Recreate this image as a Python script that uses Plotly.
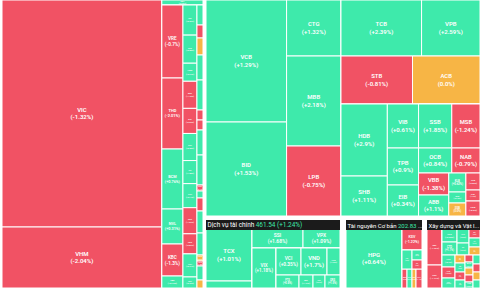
import plotly.graph_objects as go

W, H = 480, 288
RED, GREEN, AMBER = "#F15264", "#3EEAAB", "#F7B545"
FONT = "Roboto, Arial, sans-serif"

# ---------------- Bất động sản (real estate) ----------------
re_groups = ["RE", "L", "R", "TOP", "LOW", "A", "B", "C"]
re_group_parents = ["", "RE", "RE", "R", "R", "LOW", "LOW", "LOW"]
re_tickers = ["VIC", "VHM", "KDH",
              "VRE", "THD", "BCM", "NVL", "KBC", "SZC",
              "IDC", "NLG", "HDG", "DXG", "DIG", "KSF", "SIP", "VPI", "CEO", "PDR", "TCH", "NTL",
              "DXS", "HQC", "SCR", "ITC", "NBB", "LDG", "QCG", "HAR", "TDC", "CRE", "DRH", "FIR",
              "SGR", "TIG", "AGG", "HPX", "NTC", "D2D"]
re_parents = ["L", "L", "TOP"] + ["A"] * 6 + ["B"] * 12 + ["C"] * 18
re_caps = [36093, 9699, 205,
           1533, 1491, 1260, 735, 672, 252,
           420, 392, 252, 378, 350, 378, 322, 336, 364, 280, 322, 154,
           120, 78, 102, 150, 180, 60, 60, 150, 180, 36, 42, 78, 132, 132, 36, 30, 84, 48]
re_changes = [-1.32, -2.04, 0.55,
              -0.70, -2.01, 0.76, 0.31, -1.30, 0.42,
              0.62, 0.85, 0.30, -1.18, -0.95, 0.55, 1.05, 0.40, -1.52, -0.82, 0.71, 0.33,
              0.50, -0.80, 0.0, 1.20, 0.40, -1.10, -0.60, 0.90, 0.30, -2.10, 0.70, -0.90,
              0.60, 1.40, 0.0, -1.50, 0.20, 0.0]

# ---------------- Ngân hàng (banks) ----------------
bk_groups = ["BK", "BK1", "BK2", "BK3", "BK3a", "BK3b", "BK3c", "C1", "C2", "C3",
             "C3a", "C3b", "SO", "MN", "VA", "S1", "S2"]
bk_group_parents = ["", "BK", "BK", "BK", "BK3", "BK3", "BK3", "BK3c", "BK3c", "BK3c",
                    "C3", "C3", "C3a", "C3a", "C3b", "C3b", "C3b"]
bk_tickers = ["VCB", "BID", "CTG", "MBB", "LPB", "TCB", "VPB", "STB", "ACB",
              "HDB", "SHB", "VIB", "TPB", "EIB", "SSB", "OCB", "MSB", "NAB", "VBB", "ABB",
              "KLB", "BAB", "SGB", "VAB", "NVB", "PGB"]
bk_parents = ["BK1", "BK1", "BK2", "BK2", "BK2", "BK3a", "BK3a", "BK3b", "BK3b",
              "C1", "C1", "C2", "C2", "C2", "SO", "SO", "MN", "MN", "VA", "VA",
              "S1", "S1", "S1", "S2", "S2", "S2"]
bk_caps = [9760, 7520, 3024, 4860, 3780, 4480, 3248, 3408, 3216,
           3312, 1840, 1364, 1147, 961, 1452, 825, 1232, 700, 660, 630,
           323, 187, 221, 238, 154, 210]
bk_changes = [1.29, 1.53, 1.32, 2.18, -0.75, 2.39, 2.59, -0.81, 0.0,
              2.90, 1.11, 0.61, 0.90, 0.34, 1.85, 0.84, -1.24, -0.79, -1.38, 1.10,
              0.62, 0.45, 0.0, -0.85, -1.20, -0.60]

# ---------------- Dịch vụ tài chính ----------------
fn_header = ["Dịch vụ tài chính", "461.54 (+1.24%)"]
fn_groups = ["FN", "F1", "F2", "F2a", "F2b", "F2v", "F2c", "F2c1", "F2c2"]
fn_group_parents = ["", "FN", "FN", "F2", "F2", "F2b", "F2b", "F2c", "F2c"]
fn_tickers = ["TCX", "SHS", "SSI", "VPX", "VIX", "VCI", "VND", "HCM", "FTS", "BSI", "CTS", "ORS"]
fn_parents = ["F1", "F1", "F2a", "F2a", "F2v", "F2c1", "F2c1", "F2c1", "F2c2", "F2c2", "F2c2", "F2c2"]
fn_caps = [2392, 322, 969, 703, 960, 675, 702, 351, 299, 182, 156, 195]
fn_changes = [1.01, 1.50, 1.68, 1.09, 1.18, 0.35, 1.70, 1.25, 0.80, 1.20, 0.90, 1.50]

# ---------------- Tài nguyên Cơ bản ----------------
rs_header = ["Tài nguyên Cơ bản", "202.83", " ..."]
rs_groups = ["RS", "RH", "R2", "RK", "R2b", "R2c", "R2b1", "R2b2"]
rs_group_parents = ["", "RS", "RS", "R2", "R2", "R2", "R2b", "R2b"]
rs_tickers = ["HPG", "KSV", "HSG", "NKG", "TVN", "MSR", "DHC", "SMC", "TLH"]
rs_parents = ["RH", "RK", "R2b1", "R2b2", "R2b2", "R2c", "R2c", "R2c", "R2c"]
rs_caps = [3304, 420, 190, 100, 90, 95, 95, 76, 114]
rs_changes = [0.64, -1.22, 0.50, 0.40, -0.90, -0.70, 0.60, 0.0, -1.10]

# ---------------- Xây dựng và Vật liệu ----------------
cn_header = ["Xây dựng và Vật l..."]
cn_groups = ["CN", "K1", "K2", "K2a", "K2b", "a1", "a2", "a3", "b1", "b2", "b3", "b4"]
cn_group_parents = ["", "CN", "CN", "K2", "K2", "K2a", "K2a", "K2a", "K2b", "K2b", "K2b", "K2b"]
cn_tickers = ["GEL", "VGC", "VCG", "CTD", "HHV", "CII", "DPG", "HT1", "PC1",
              "FCN", "C4G", "LCG", "HBC", "KSB", "PLC", "HUT",
              "VCS", "DHA", "CTI", "TCD", "HID", "BCC", "HOM", "VLB", "CRC"]
cn_parents = ["K1", "K1", "a1", "a1", "a2", "a2", "a3", "a3", "a3",
              "b1", "b1", "b1", "b2", "b2", "b2", "b2",
              "b3", "b3", "b3", "b3", "b3", "b4", "b4", "b4", "b4"]
cn_caps = [540, 345, 195, 195, 168, 144, 99, 99, 88,
           156, 143, 130, 80, 90, 80, 80,
           56, 48, 56, 56, 48, 63, 56, 56, 56]
cn_changes = [-1.79, -1.44, 0.85, 1.10, 0.60, 0.90, -0.50, 0.40, 0.0,
              0.70, -0.80, 0.50, 0.0, 0.60, -0.40, 0.90,
              -1.10, 0.30, 0.0, -0.60, 0.80, 0.50, -0.70, 0.0, 0.40]


def fmt(v):
    if v == 0:
        return "0.0"
    s = f"{v:+.2f}".rstrip("0")
    if s.endswith("."):
        s += "0"
    return s


def colour(v):
    return GREEN if v > 0 else (RED if v < 0 else AMBER)


def dom(x0, x1, y0, y1):
    return dict(x=[x0 / W, x1 / W], y=[1 - y1 / H, 1 - y0 / H])


def sector(groups, gparents, tickers, parents, caps, changes, domain):
    ids = ["g:" + g for g in groups] + tickers
    par = [("g:" + p) if p else "" for p in gparents] + ["g:" + p for p in parents]
    vals = [0] * len(groups) + caps
    cols = ["#ffffff"] * len(groups) + [colour(c) for c in changes]
    txt = [""] * len(groups) + [f"{t}<br>({fmt(c)}%)" for t, c in zip(tickers, changes)]
    return go.Treemap(
        ids=ids, labels=ids, parents=par, values=vals, text=txt,
        branchvalues="remainder", sort=False,
        textinfo="text", textposition="middle center",
        textfont=dict(family=FONT, size=6, color="white", weight=600),
        marker=dict(colors=cols, line=dict(color="white", width=1),
                    pad=dict(t=0, l=0, r=0, b=0)),
        tiling=dict(packing="slice-dice", pad=0),
        pathbar=dict(visible=False),
        hoverinfo="skip",
        domain=domain,
    )


fig = go.Figure()
fig.add_trace(sector(re_groups, re_group_parents, re_tickers, re_parents, re_caps, re_changes,
                     dom(2, 203, 0, 288)))
fig.add_trace(sector(bk_groups, bk_group_parents, bk_tickers, bk_parents, bk_caps, bk_changes,
                     dom(206, 480, 0, 216)))
fig.add_trace(sector(fn_groups, fn_group_parents, fn_tickers, fn_parents, fn_caps, fn_changes,
                     dom(206, 340, 229, 288)))
fig.add_trace(sector(rs_groups, rs_group_parents, rs_tickers, rs_parents, rs_caps, rs_changes,
                     dom(346, 422, 229, 288)))
fig.add_trace(sector(cn_groups, cn_group_parents, cn_tickers, cn_parents, cn_caps, cn_changes,
                     dom(427, 480, 229, 288)))

headers = [
    (206, 134, 6.4, f"\u00a0{fn_header[0]} <span style='color:{GREEN}'>{fn_header[1]}</span>"),
    (346, 76, 6, f"\u00a0{rs_header[0]} <span style='color:{GREEN}'>{rs_header[1]}</span>{rs_header[2]}"),
    (427, 53, 6, f"\u00a0{cn_header[0]}"),
]
for x0, w, fs, t in headers:
    fig.add_annotation(x=x0 / W, y=1 - 219.5 / H, xref="paper", yref="paper",
                       xanchor="left", yanchor="top", width=w, height=10,
                       align="left", valign="middle", bgcolor="#1B1B1B",
                       borderpad=0, borderwidth=0, showarrow=False, text=t,
                       font=dict(family=FONT, size=fs, color="white"))

fig.update_layout(width=W, height=H, margin=dict(l=0, r=0, t=0, b=0),
                  paper_bgcolor="white", showlegend=False)
fig.write_html("out.html")
